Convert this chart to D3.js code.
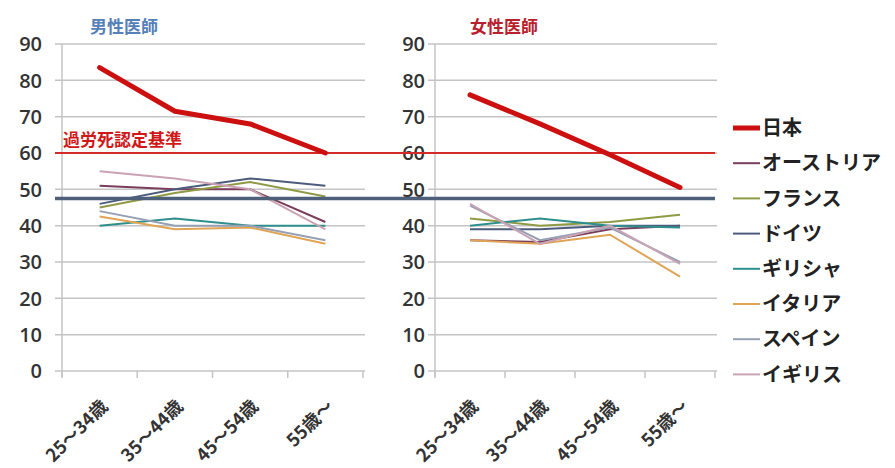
<!DOCTYPE html>
<html><head><meta charset="utf-8">
<script src="https://cdn.jsdelivr.net/npm/d3@7"></script>
<style>
body{margin:0;background:#fff;}
text{font-family:"Noto Sans CJK JP","Noto Sans",sans-serif;}
</style></head>
<body><svg id="chart" width="895" height="468"></svg>
<script>
const categories = ["25〜34歳","35〜44歳","45〜54歳","55歳〜"];
const countries = ["日本","オーストリア","フランス","ドイツ","ギリシャ","イタリア","スペイン","イギリス"];
const colors = ["#cc1010","#7a3d5c","#8f9a45","#4d5b7c","#2f8f8c","#e0a455","#95a0b4","#c9a3b3"];
const yTicks = [0,10,20,30,40,50,60,70,80,90];
const maleValues = [
  [83.5,71.5,68,60],
  [51,50,50,41],
  [45,49,52,48],
  [46,50,53,51],
  [40,42,40,40],
  [42.5,39,39.5,35],
  [44,40,40,36],
  [55,53,50,39]
];
const femaleValues = [
  [76,68,59.5,50.5],
  [36,35.5,39,40],
  [42,40,41,43],
  [39,39,40,40],
  [40,42,40,39.5],
  [36,35,37.5,26],
  [45.5,36,39.5,30],
  [46,35,40,29.5]
];
const panelTitles = ["男性医師","女性医師"];
const refLineValue = 60;
const refLineLabel = "過労死認定基準";
const avgLineValue = 47.5;

const svg = d3.select("#chart");
const y = d3.scaleLinear().domain([0,90]).range([371,44]);
const panels = [
  {x: d3.scaleBand().domain(categories).range([62,363]), data: maleValues, title: panelTitles[0], titleColor:"#5580b8", titleX: 90, labelX: 42},
  {x: d3.scaleBand().domain(categories).range([435,715]), data: femaleValues, title: panelTitles[1], titleColor:"#b8202e", titleX: 470, labelX: 425}
];

const line = (xs) => d3.line().x((d,i)=>xs(categories[i])+xs.bandwidth()/2).y(d=>y(d));

panels.forEach(p => {
  const [x0,x1] = p.x.range();
  svg.append("g").selectAll("line").data(yTicks).join("line")
    .attr("x1", x0-7).attr("x2", x1+2)
    .attr("y1", d=>y(d)).attr("y2", d=>y(d))
    .attr("stroke","#c4c4c4").attr("stroke-width",1.5);
  svg.append("line").attr("x1",x0).attr("x2",x0).attr("y1",y(90)).attr("y2",y(0)+6)
    .attr("stroke","#c4c4c4").attr("stroke-width",1.5);
  const bounds = categories.map(c=>p.x(c)).concat([x1]);
  svg.append("g").selectAll("line").data(bounds).join("line")
    .attr("x1",d=>d).attr("x2",d=>d).attr("y1",y(0)).attr("y2",y(0)+7)
    .attr("stroke","#c4c4c4").attr("stroke-width",1.5);
  svg.append("g").selectAll("text").data(yTicks).join("text")
    .attr("x", p.labelX).attr("y", d=>y(d)).attr("dy","0.36em")
    .attr("text-anchor","end").attr("font-size",20).attr("font-weight",600).attr("fill","#333")
    .style("font-family","'Open Sans',sans-serif")
    .text(d=>d);
  svg.append("g").selectAll("text").data(categories).join("text")
    .attr("transform", d=>`translate(${p.x(d)+p.x.bandwidth()/2+5},${y(0)+32}) rotate(-45)`)
    .attr("text-anchor","end").attr("dy","0.35em").attr("font-size",18).attr("font-weight","bold")
    .attr("fill","#333").text(d=>d);
  svg.append("text").attr("x",p.titleX).attr("y",33).attr("font-size",17).attr("font-weight","bold")
    .attr("fill",p.titleColor).text(p.title);
});

const fullX0 = panels[0].x.range()[0]-7, fullX1 = panels[1].x.range()[1];
svg.append("line").attr("x1",fullX0).attr("x2",fullX1).attr("y1",y(refLineValue)).attr("y2",y(refLineValue))
  .attr("stroke","#d42a2a").attr("stroke-width",2);
svg.append("text").attr("x",63).attr("y",y(refLineValue)-7).attr("font-size",17).attr("font-weight","bold")
  .attr("fill","#d01818").text(refLineLabel);

panels.forEach(p => {
  p.data.forEach((vals,i) => {
    if (i===0) return;
    svg.append("path").datum(vals).attr("d", line(p.x)).attr("fill","none")
      .attr("stroke",colors[i]).attr("stroke-width",2);
  });
});
svg.append("line").attr("x1",fullX0).attr("x2",fullX1).attr("y1",y(avgLineValue)).attr("y2",y(avgLineValue))
  .attr("stroke","#4e6079").attr("stroke-width",3.5);
panels.forEach(p => {
  svg.append("path").datum(p.data[0]).attr("d", line(p.x)).attr("fill","none")
    .attr("stroke",colors[0]).attr("stroke-width",5).attr("stroke-linecap","round").attr("stroke-linejoin","round");
});

const lg = svg.append("g").attr("transform","translate(733,128)");
countries.forEach((c,i) => {
  const g = lg.append("g").attr("transform",`translate(0,${i*35.2})`);
  g.append("line").attr("x1",0).attr("x2",27).attr("stroke",colors[i]).attr("stroke-width", i===0?5:2);
  g.append("text").attr("x",29).attr("dy","0.36em").attr("font-size",20).attr("font-weight","bold")
    .attr("fill","#222").text(c);
});
</script></body></html>
